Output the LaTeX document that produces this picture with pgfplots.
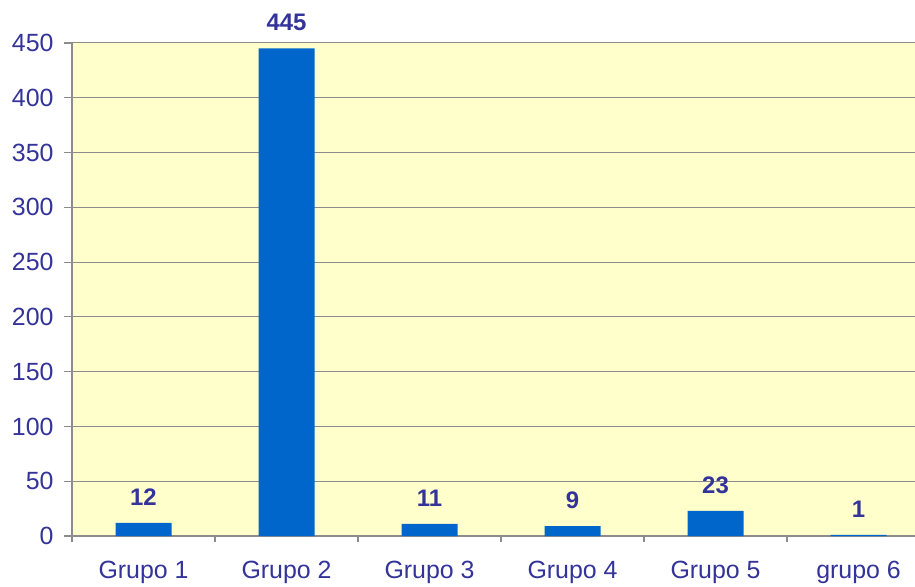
\documentclass[border=0pt]{standalone}
\usepackage{pgfplots}
\pgfplotsset{compat=1.18}
\usepackage{fontspec}
\setmainfont{Liberation Sans}
\definecolor{bg}{HTML}{FFFFCC}
\definecolor{barc}{HTML}{0066CC}
\definecolor{txt}{HTML}{333399}
\definecolor{gr}{HTML}{8C8C8C}
\begin{document}
\begin{tikzpicture}
\begin{axis}[
  scale only axis, width=843bp, height=493bp,
  xmin=-0.5, xmax=5.395, ymin=0, ymax=450,
  axis background/.style={fill=bg},
  axis lines=left,
  axis line style={gr, -, line width=1.6bp},
  ytick={0,50,...,450},
  ymajorgrids, grid style={gr, line width=1bp},
  xtick={0,...,5},
  xticklabels={Grupo 1,Grupo 2,Grupo 3,Grupo 4,Grupo 5,grupo 6},
  major x tick style={draw=none},
  minor xtick={-0.5,0.5,...,4.5},
  tick align=outside,
  major tick length=8bp,
  minor tick length=6bp,
  tick style={gr, line width=1.2bp},
  /pgf/number format/assume math mode=true,
  ticklabel style={font=\fontsize{25}{29}\selectfont, text=txt},
  yticklabel style={xshift=-7bp},
  xticklabel style={yshift=-14bp},
  ybar, bar width=56bp,
  nodes near coords,
  nodes near coords style={font=\bfseries\fontsize{24}{28}\selectfont, text=txt, yshift=14bp},
]
\addplot[fill=barc, draw=none] coordinates {(0,12)(1,445)(2,11)(3,9)(4,23)(5,1)};
\end{axis}
\pgfresetboundingbox
\path ([xshift=-72bp,yshift=-51bp]current axis.south west) rectangle ([yshift=43bp]current axis.north east);
\end{tikzpicture}
\end{document}
